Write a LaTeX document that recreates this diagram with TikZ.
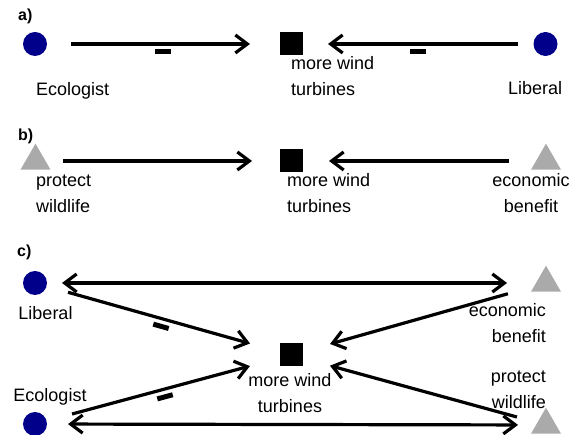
\documentclass[tikz,border=0pt]{standalone}
\usepackage{fontspec}
\setmainfont{Liberation Sans}
\usetikzlibrary{arrows.meta,shapes.geometric}
\definecolor{actorblue}{RGB}{0,0,139}
\definecolor{valuegray}{RGB}{170,170,170}
\tikzset{
	barb/.tip={Straight Barb[length=12pt,width=18pt]},
	actor/.style={circle, fill=actorblue, minimum size=24pt, inner sep=0pt, outer sep=0pt},
	value/.style={regular polygon, regular polygon sides=3, fill=valuegray, minimum size=34.6pt, inner sep=0pt, outer sep=0pt},
	issue/.style={rectangle, fill=black, minimum size=23pt, inner sep=0pt, outer sep=0pt},
	link/.style={line width=3.2pt, -barb},
	mutual/.style={line width=3.2pt, barb-barb},
	neg/.style={fill=black, minimum width=16pt, minimum height=5pt, inner sep=0pt},
	lbl/.style={font=\fontsize{18}{25.5}\selectfont, inner sep=0pt},
	panel/.style={font=\fontsize{16}{19}\selectfont\bfseries, inner sep=0pt, anchor=base west}
}
\begin{document}
\begin{tikzpicture}[x=1pt, y=-1pt]
	\useasboundingbox (0,0) rectangle (574,435);
	% a)
	\node[panel] (pa) at (18,21) {a)};
	\node[actor] (ecoA) at (35,44) {};
	\node[issue] (windA) at (291,44) {};
	\node[actor] (libA) at (545.5,44) {};
	\node[lbl, anchor=base west] (ecoAtxt) at (36,96) {Ecologist};
	\node[lbl, anchor=base west, align=left] (windAtxt) at (291,95.5) {more wind\\turbines};
	\node[lbl, anchor=base west] (libAtxt) at (508,95) {Liberal};
	\draw[link, shorten <=24pt, shorten >=29.5pt] (ecoA) -- (windA) node[neg, sloped, midway, below=3.5pt]{};
	\draw[link, shorten <=15.5pt, shorten >=25.5pt] (libA) -- (windA) node[neg, sloped, midway, below=3.5pt]{};
	% b)
	\node[panel] (pb) at (18,140.5) {b)};
	\node[value] (wildB) at (35.5,161) {};
	\node[issue] (windB) at (291,161) {};
	\node[value] (econB) at (546,161) {};
	\node[lbl, anchor=base west, align=left] (wildBtxt) at (36,212.5) {protect\\wildlife};
	\node[lbl, anchor=base west, align=left] (windBtxt) at (287,212.5) {more wind\\turbines};
	\node[lbl, anchor=base, align=center] (econBtxt) at (531,212.5) {economic\\benefit};
	\draw[link, shorten <=17.5pt, shorten >=27.5pt] (wildB) -- (windB);
	\draw[link, shorten <=27pt, shorten >=26.5pt] (econB) -- (windB);
	% c)
	\node[panel] (pc) at (17,256.5) {c)};
	\node[actor] (libC) at (35,283) {};
	\node[value] (econC) at (546,283) {};
	\node[issue] (windC) at (291,355) {};
	\node[actor] (ecoC) at (35,424) {};
	\node[value] (wildC) at (546,425) {};
	\node[lbl, anchor=base] (libCtxt) at (45.5,320) {Liberal};
	\node[lbl, anchor=base] (ecoCtxt) at (50,401.5) {Ecologist};
	\node[lbl, anchor=base, align=center] (windCtxt) at (290,412.5) {more wind\\turbines};
	\node[lbl, anchor=base east, align=right] (econCtxt) at (546,342.5) {economic\\benefit};
	\node[lbl, anchor=base east, align=right] (wildCtxt) at (546,408.5) {protect\\wildlife};
	\draw[mutual, shorten <=15pt, shorten >=29pt] (libC) -- (econC);
	\draw[mutual, shorten <=21pt, shorten >=18pt] (ecoC) -- (wildC);
	\draw[link, shorten <=22.3pt, shorten >=30.6pt] (libC) -- (windC) node[neg, sloped, midway, below=3.5pt]{};
	\draw[link, shorten <=26.4pt, shorten >=30.6pt] (ecoC) -- (windC) node[neg, sloped, midway, below=3.5pt]{};
	\draw[link, shorten <=27.2pt, shorten >=28.6pt] (econC) -- (windC);
	\draw[link, shorten <=21.2pt, shorten >=28.5pt] (wildC) -- (windC);
\end{tikzpicture}
\end{document}
